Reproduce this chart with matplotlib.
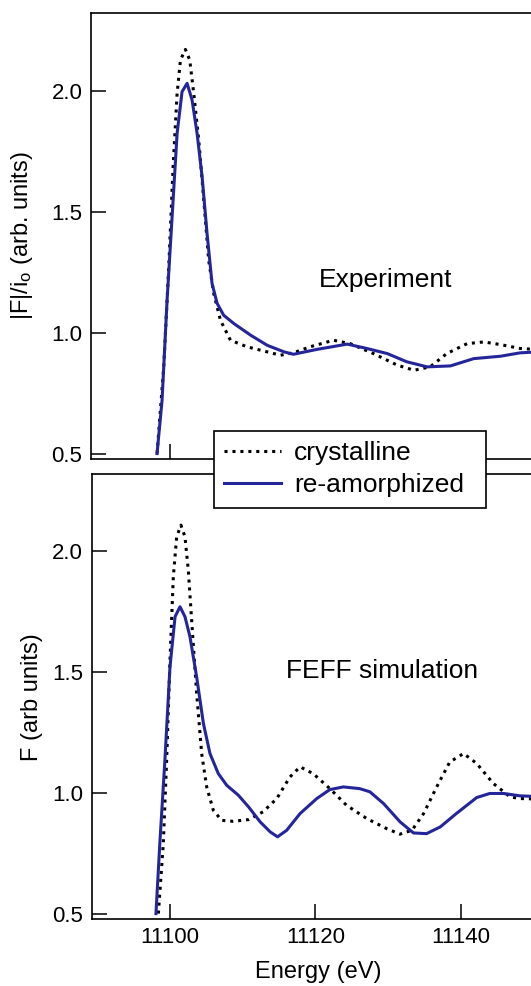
import matplotlib
matplotlib.use("Agg")
import matplotlib.pyplot as plt
from matplotlib.lines import Line2D

plt.rcParams['font.family'] = ['Liberation Sans', 'DejaVu Sans']
plt.rcParams['mathtext.fontset'] = 'custom'
plt.rcParams['mathtext.rm'] = 'Liberation Sans'
plt.rcParams['mathtext.it'] = 'Liberation Sans:italic'
plt.rcParams['mathtext.bf'] = 'Liberation Sans:bold'

# ---------------- data ----------------
# Experiment, crystalline
exp_cry_x = [11098.23, 11099.15, 11099.84, 11100.44, 11100.99, 11101.45, 11102.13, 11102.73,
             11103.28, 11103.97, 11104.66, 11105.34, 11106.03, 11106.95, 11108.33, 11110.6,
             11113.4, 11115.2, 11117.0, 11119.3, 11122.5, 11124.8, 11128.0, 11131.3, 11133.6,
             11135.8, 11138.1, 11140.9, 11143.2, 11145.5, 11148.2, 11152.0]
exp_cry_y = [0.503, 0.861, 1.274, 1.687, 1.99, 2.128, 2.172, 2.128,
             1.99, 1.797, 1.55, 1.30, 1.164, 1.054, 0.971, 0.944,
             0.923, 0.909, 0.919, 0.944, 0.971, 0.957, 0.916, 0.868, 0.847,
             0.861, 0.916, 0.957, 0.964, 0.953, 0.937, 0.93]
# Experiment, re-amorphized
exp_am_x = [11098.23, 11098.92, 11099.61, 11100.3, 11100.99, 11101.67, 11102.36, 11103.05,
            11103.74, 11104.43, 11105.11, 11105.8, 11106.5, 11107.4, 11108.8, 11111.1,
            11113.4, 11115.7, 11117.0, 11120.2, 11124.4, 11127.1, 11129.9, 11132.6, 11135.4,
            11138.6, 11141.8, 11145.5, 11148.2, 11152.0]
exp_am_y = [0.503, 0.723, 1.136, 1.48, 1.825, 1.997, 2.032, 1.963,
            1.825, 1.646, 1.412, 1.205, 1.123, 1.074, 1.04, 0.992,
            0.95, 0.923, 0.913, 0.933, 0.955, 0.937, 0.916, 0.882, 0.861,
            0.865, 0.895, 0.905, 0.919, 0.925]
# FEFF, crystalline
sim_cry_x = [11098.4, 11099.08, 11099.54, 11100.0, 11100.46, 11100.92, 11101.51, 11102.06,
             11102.52, 11102.98, 11103.67, 11104.36, 11105.05, 11105.96, 11107.1, 11108.7,
             11110.8, 11112.8, 11114.7, 11116.5, 11117.9, 11119.7, 11122.0, 11124.3, 11127.1,
             11129.8, 11131.65, 11133.3, 11134.9, 11136.7, 11138.5, 11140.4, 11142.2, 11144.5,
             11146.8, 11148.2, 11152.0]
sim_cry_y = [0.503, 0.792, 1.136, 1.55, 1.894, 2.059, 2.107, 2.059,
             1.921, 1.715, 1.412, 1.164, 1.026, 0.93, 0.888, 0.884,
             0.891, 0.923, 0.978, 1.067, 1.109, 1.081, 1.019, 0.95, 0.895,
             0.854, 0.831, 0.847, 0.916, 1.026, 1.129, 1.164, 1.123, 1.04,
             0.985, 0.978, 0.975]
# FEFF, re-amorphized
sim_am_x = [11098.07, 11098.6, 11099.3, 11100.0, 11100.7, 11101.38, 11102.06, 11102.75,
            11103.67, 11104.6, 11105.5, 11106.65, 11107.8, 11109.4, 11110.8, 11112.4,
            11113.8, 11114.8, 11116.06, 11117.9, 11120.2, 11122.0, 11123.85, 11126.1, 11127.5,
            11129.4, 11131.65, 11133.5, 11135.3, 11137.2, 11139.4, 11142.2, 11144.0, 11145.9,
            11148.2, 11152.0]
sim_am_y = [0.503, 0.792, 1.136, 1.522, 1.729, 1.77, 1.729, 1.646,
            1.48, 1.288, 1.164, 1.081, 1.033, 0.992, 0.944, 0.882,
            0.84, 0.82, 0.847, 0.916, 0.978, 1.015, 1.026, 1.019, 1.006,
            0.957, 0.882, 0.836, 0.833, 0.861, 0.916, 0.982, 0.999, 0.999,
            0.989, 0.985]

series_labels = ["crystalline", "re-amorphized"]
panel_texts = ["Experiment", "FEFF simulation"]
ylabels = [r"|F|/i$_\mathrm{o}$ (arb. units)", "F (arb units)"]
xlabel = "Energy (eV)"
yticks = [0.5, 1.0, 1.5, 2.0]
xticks = [11100, 11120, 11140]

# ---------------- styling ----------------
W, H = 531, 986
BLUE = '#25259b'
DOT = (0, (1, 1.6))
TICK_FS = 16
LABEL_FS = 17
TEXT_FS = 19
LEG_FS = 19
XMAX = 11151.6
AX_W = (XMAX - 11089.2) * 7.267

fig = plt.figure(figsize=(W / 100, H / 100), dpi=100)

def px_axes(left, top, bottom, width):
    return fig.add_axes([left / W, 1 - bottom / H, width / W, (bottom - top) / H])

ax1 = px_axes(90.7, 13.3, 459.0, AX_W)
ax2 = px_axes(91.5, 474.3, 919.0, AX_W)

ax1.plot(exp_cry_x, exp_cry_y, color='black', lw=2.2, linestyle=DOT)
ax1.plot(exp_am_x, exp_am_y, color=BLUE, lw=2.2)
ax2.plot(sim_cry_x, sim_cry_y, color='black', lw=2.2, linestyle=DOT)
ax2.plot(sim_am_x, sim_am_y, color=BLUE, lw=2.2)

ax1.set_xlim(11089.1, XMAX - 0.1)
ax1.set_ylim(0.4806, 2.321)
ax2.set_xlim(11089.2, XMAX)
ax2.set_ylim(0.4806, 2.317)

for ax in (ax1, ax2):
    ax.set_yticks(yticks)
    ax.set_yticklabels([f"{v:.1f}" for v in yticks])
    ax.set_xticks(xticks)
    ax.tick_params(axis='both', direction='in', length=10.8, width=1.1,
                   labelsize=TICK_FS, pad=6.0, top=False, right=False)
    for s in ax.spines.values():
        s.set_linewidth(1.2)

ax1.tick_params(axis='x', labelbottom=False)
ax2.set_xticklabels([str(v) for v in xticks])
ax2.set_xlabel(xlabel, fontsize=LABEL_FS, labelpad=9)

ax1.set_ylabel(ylabels[0], fontsize=LABEL_FS)
ax2.set_ylabel(ylabels[1], fontsize=LABEL_FS)
ax1.yaxis.set_label_coords((35 - 90.7) / AX_W, 0.5)
ax2.yaxis.set_label_coords((42.7 - 91.5) / AX_W, 0.5)

ax1.text(11129.65, 1.189, panel_texts[0], fontsize=TEXT_FS, ha='center', va='baseline')
ax2.text(11129.2, 1.474, panel_texts[1], fontsize=TEXT_FS, ha='center', va='baseline')

handles = [Line2D([], [], color='black', lw=2.2, linestyle=DOT),
           Line2D([], [], color=BLUE, lw=2.2)]
x0, x1 = 213.7, 486.3
ytop = 430.7
leg = fig.legend(handles, series_labels, loc='upper left',
                 bbox_to_anchor=(x0 / W, 1 - 507.3 / H, (x1 - x0) / W, (507.3 - ytop) / H),
                 mode='expand', borderaxespad=0, fontsize=LEG_FS, frameon=True,
                 fancybox=False, edgecolor='black', framealpha=1,
                 handlelength=2.16, handletextpad=0.48, borderpad=0.4, labelspacing=0.3)
leg.get_frame().set_linewidth(1.2)

fig.savefig("out.png", dpi=100)
